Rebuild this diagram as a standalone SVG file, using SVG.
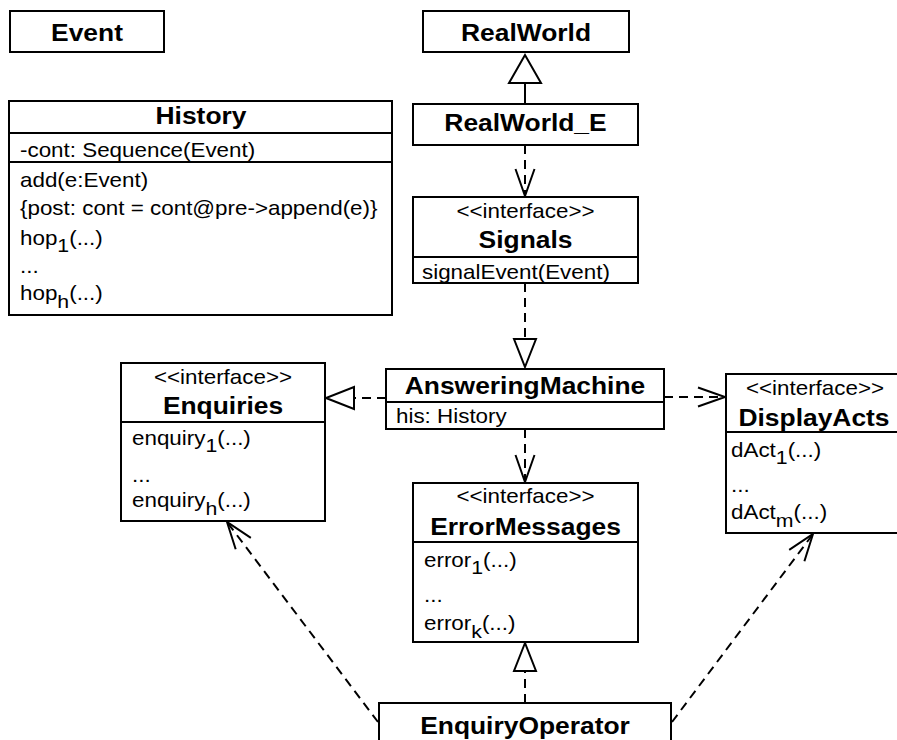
<svg xmlns="http://www.w3.org/2000/svg" width="897" height="740" viewBox="0 0 897 740">
<style>
rect.box{fill:#fff;stroke:#000;stroke-width:2}
line.div{stroke:#000;stroke-width:2}
text{font-family:"Liberation Sans",Arial,Helvetica,sans-serif;fill:#000}
text.t{font-size:24px;font-weight:bold;text-anchor:middle}
text.st{font-size:20px;text-anchor:middle}
text.m{font-size:20px}
tspan.sub{font-size:19px}
.dash{fill:none;stroke:#000;stroke-width:2;stroke-dasharray:9 6}
.solid{fill:none;stroke:#000;stroke-width:2}
</style>
<defs>
<marker id="openArrow" markerUnits="userSpaceOnUse" orient="auto" refX="0" refY="0" markerWidth="30" markerHeight="30" overflow="visible">
<path d="M-27,-9.5 L0,0 L-27,9.5" fill="none" stroke="#000" stroke-width="2"/>
</marker>
<marker id="bigTri" markerUnits="userSpaceOnUse" orient="auto" refX="0" refY="0" markerWidth="30" markerHeight="30" overflow="visible">
<path d="M0,0 L-28,-16 L-28,16 Z" fill="#fff" stroke="#000" stroke-width="2"/>
</marker>
<marker id="tri" markerUnits="userSpaceOnUse" orient="auto" refX="0" refY="0" markerWidth="30" markerHeight="30" overflow="visible">
<path d="M0,0 L-28,-11 L-28,11 Z" fill="#fff" stroke="#000" stroke-width="2"/>
</marker>
</defs>

<g id="connectors">
<path class="solid" d="M525,104 L525,55" marker-end="url(#bigTri)"/>
<path class="dash" d="M525,145 L525,196" marker-end="url(#openArrow)"/>
<path class="dash" d="M525,283 L525,367" marker-end="url(#tri)"/>
<path class="dash" d="M386,398 L326,398" marker-end="url(#tri)"/>
<path class="dash" d="M664,397 L725,397" marker-end="url(#openArrow)"/>
<path class="dash" d="M525,429 L525,482" marker-end="url(#openArrow)"/>
<path class="dash" d="M525,703 L525,643" marker-end="url(#tri)"/>
<path class="dash" d="M378,722 L227,522" marker-end="url(#openArrow)"/>
<path class="dash" d="M672,722 L813,534" marker-end="url(#openArrow)"/>
</g>

<g id="Event">
<rect class="box" x="10" y="11" width="154" height="41"/>
<text class="t" transform="translate(87,41) scale(1.1,1)">Event</text>
</g>

<g id="History">
<rect class="box" x="9" y="101" width="383" height="214"/>
<line class="div" x1="9" y1="133" x2="392" y2="133"/>
<line class="div" x1="9" y1="162" x2="392" y2="162"/>
<text class="t" transform="translate(201,124) scale(1.1,1)">History</text>
<text class="m" transform="translate(20,157) scale(1.12,1)">-cont: Sequence(Event)</text>
<text class="m" transform="translate(20,187) scale(1.12,1)">add(e:Event)</text>
<text class="m" transform="translate(20,215) scale(1.12,1)">{post: cont = cont@pre-&gt;append(e)}</text>
<text class="m" transform="translate(20,245) scale(1.12,1)">hop<tspan class="sub" dy="7">1</tspan><tspan dy="-7">(...)</tspan></text>
<text class="m" transform="translate(20,273) scale(1.12,1)">...</text>
<text class="m" transform="translate(20,300) scale(1.12,1)">hop<tspan class="sub" dy="8">h</tspan><tspan dy="-8">(...)</tspan></text>
</g>

<g id="RealWorld">
<rect class="box" x="423" y="11" width="206" height="41"/>
<text class="t" transform="translate(526,41) scale(1.1,1)">RealWorld</text>
</g>

<g id="RealWorld_E">
<rect class="box" x="413" y="104" width="225" height="41"/>
<text class="t" transform="translate(525.5,131) scale(1.1,1)">RealWorld_E</text>
</g>

<g id="Signals">
<rect class="box" x="413" y="197" width="225" height="86"/>
<line class="div" x1="413" y1="257" x2="638" y2="257"/>
<text class="st" transform="translate(525.5,218) scale(1.12,1)">&lt;&lt;interface&gt;&gt;</text>
<text class="t" transform="translate(525.5,248) scale(1.1,1)">Signals</text>
<text class="m" transform="translate(422,279) scale(1.12,1)">signalEvent(Event)</text>
</g>

<g id="AnsweringMachine">
<rect class="box" x="386" y="369" width="278" height="60"/>
<line class="div" x1="386" y1="402" x2="664" y2="402"/>
<text class="t" transform="translate(525,394) scale(1.1,1)">AnsweringMachine</text>
<text class="m" transform="translate(396,423) scale(1.12,1)">his: History</text>
</g>

<g id="Enquiries">
<rect class="box" x="121" y="363" width="204" height="158"/>
<line class="div" x1="121" y1="422" x2="325" y2="422"/>
<text class="st" transform="translate(223,384) scale(1.12,1)">&lt;&lt;interface&gt;&gt;</text>
<text class="t" transform="translate(223,414) scale(1.1,1)">Enquiries</text>
<text class="m" transform="translate(132,445) scale(1.12,1)">enquiry<tspan class="sub" dy="7">1</tspan><tspan dy="-7">(...)</tspan></text>
<text class="m" transform="translate(132,482) scale(1.12,1)">...</text>
<text class="m" transform="translate(132,507) scale(1.12,1)">enquiry<tspan class="sub" dy="8">h</tspan><tspan dy="-8">(...)</tspan></text>
</g>

<g id="DisplayActs">
<rect class="box" x="726" y="374" width="180" height="159"/>
<line class="div" x1="726" y1="432" x2="906" y2="432"/>
<text class="st" transform="translate(815,395) scale(1.12,1)">&lt;&lt;interface&gt;&gt;</text>
<text class="t" transform="translate(814,426) scale(1.1,1)">DisplayActs</text>
<text class="m" transform="translate(731,457) scale(1.12,1)">dAct<tspan class="sub" dy="7">1</tspan><tspan dy="-7">(...)</tspan></text>
<text class="m" transform="translate(731,492) scale(1.12,1)">...</text>
<text class="m" transform="translate(731,519) scale(1.12,1)">dAct<tspan class="sub" dy="8">m</tspan><tspan dy="-8">(...)</tspan></text>
</g>

<g id="ErrorMessages">
<rect class="box" x="413" y="483" width="225" height="159"/>
<line class="div" x1="413" y1="542" x2="638" y2="542"/>
<text class="st" transform="translate(525.5,503) scale(1.12,1)">&lt;&lt;interface&gt;&gt;</text>
<text class="t" transform="translate(525.5,535) scale(1.1,1)">ErrorMessages</text>
<text class="m" transform="translate(424,567) scale(1.12,1)">error<tspan class="sub" dy="7">1</tspan><tspan dy="-7">(...)</tspan></text>
<text class="m" transform="translate(424,602) scale(1.12,1)">...</text>
<text class="m" transform="translate(424,630) scale(1.12,1)">error<tspan class="sub" dy="8">k</tspan><tspan dy="-8">(...)</tspan></text>
</g>

<g id="EnquiryOperator">
<rect class="box" x="379" y="703" width="292" height="60"/>
<text class="t" transform="translate(525,734) scale(1.1,1)">EnquiryOperator</text>
</g>
</svg>
